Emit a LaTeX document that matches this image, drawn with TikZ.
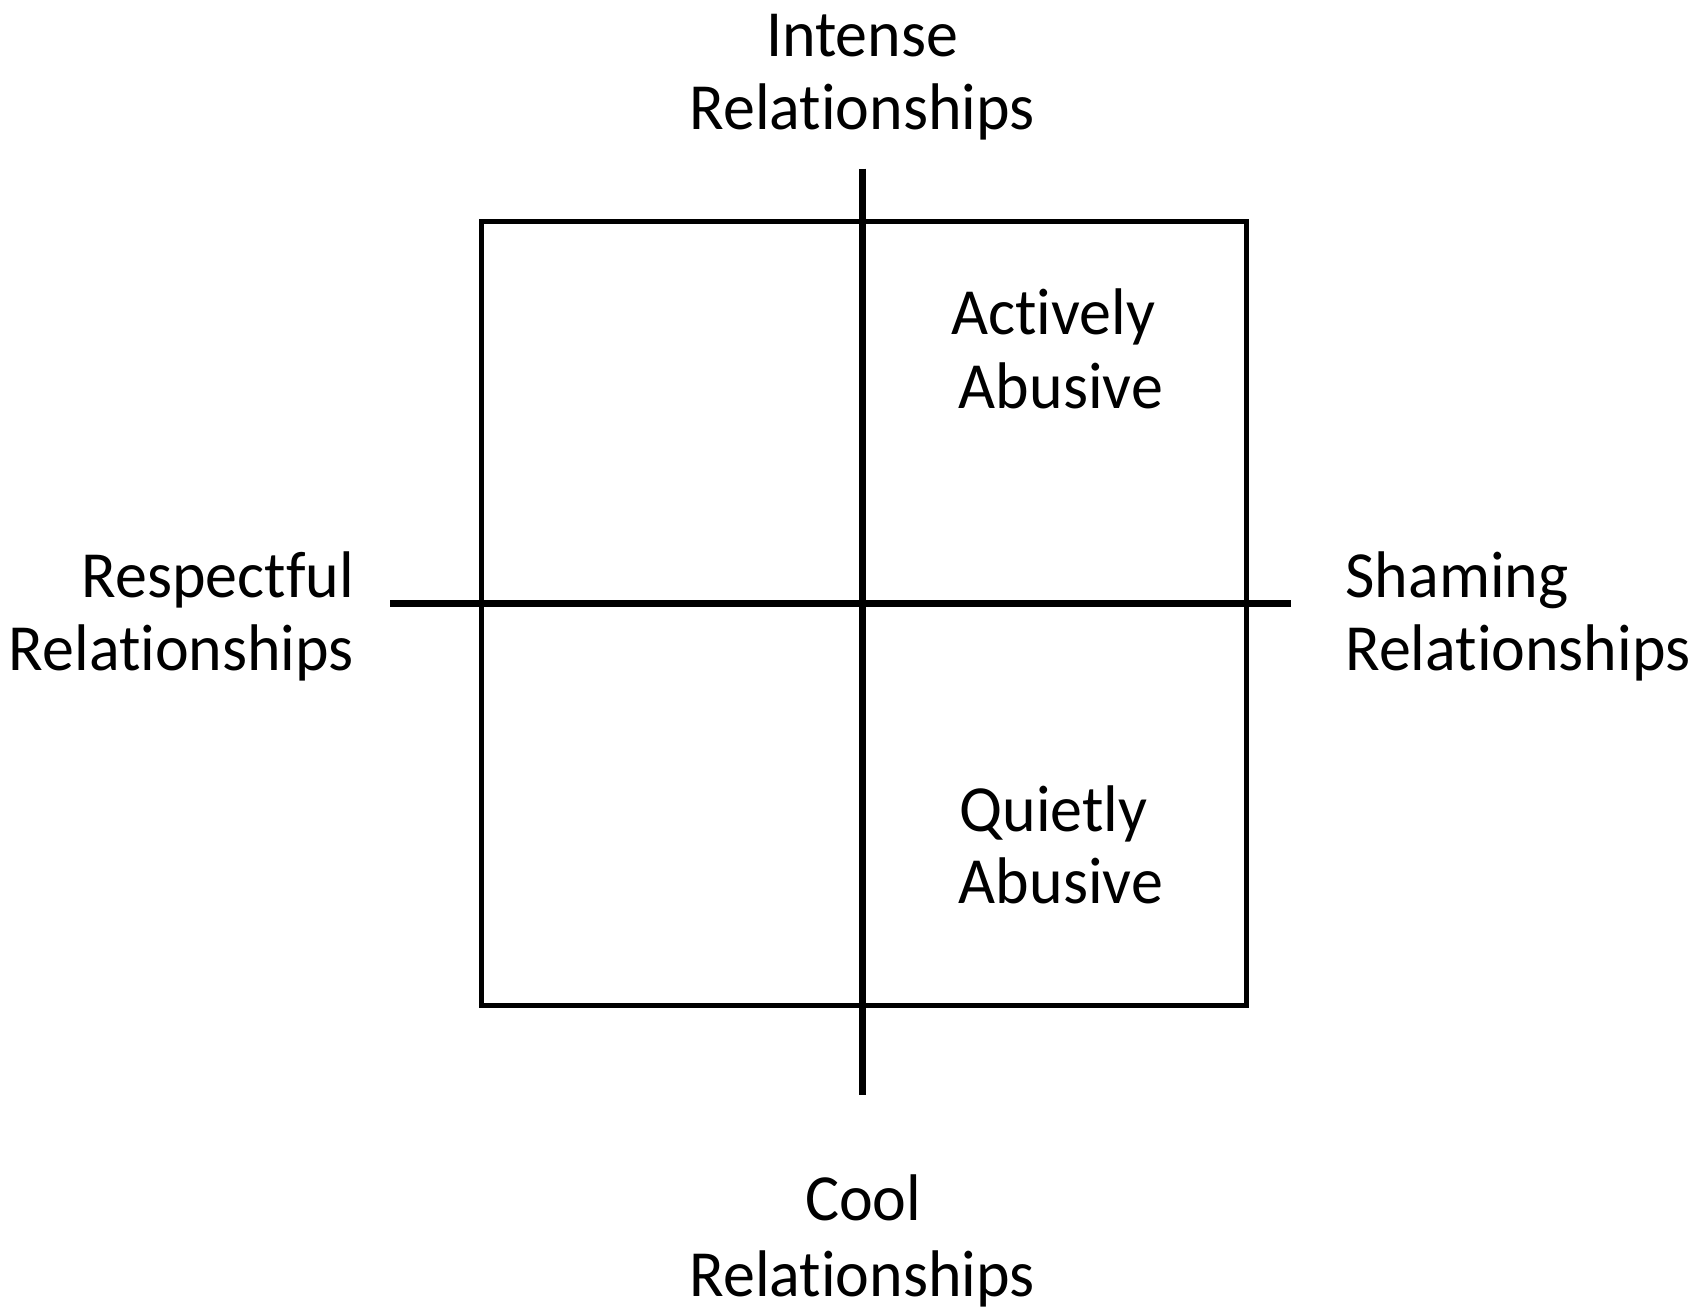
\documentclass[tikz,border=0pt]{standalone}
\usepackage{fontspec}
\setmainfont[Ligatures={NoCommon},FakeStretch=0.97]{Carlito}
\begin{document}
\begin{tikzpicture}[x=0.5pt,y=-0.5pt,
  lbl/.style={inner sep=0pt,font=\fontsize{30.5}{36}\selectfont},
  boxline/.style={line width=2.25pt},
  axisline/.style={line width=3.3pt}]
\useasboundingbox (0,0) rectangle (1568,1212.6);
% quadrant box
\coordinate (tl) at (446,205);
\coordinate (br) at (1154,931);
\draw[boxline] (tl) rectangle (br);
% axes
\coordinate (vtop) at (798,156);
\coordinate (vbot) at (798,1014);
\coordinate (hleft) at (361,559);
\coordinate (hright) at (1195,559);
\draw[axisline] (vtop) -- (vbot);
\draw[axisline] (hleft) -- (hright);
% labels
\node[lbl,anchor=base] (int1) at (798,52) {Intense};
\node[lbl,anchor=base] (int2) at (798,120) {Relationships};
\node[lbl,anchor=base east] (res1) at (328,553) {Respectful};
\node[lbl,anchor=base east] (res2) at (328,621) {Relationships};
\node[lbl,anchor=base west] (sha1) at (1245,553) {Shaming};
\node[lbl,anchor=base west] (sha2) at (1245,621) {Relationships};
\node[lbl,anchor=base] (act1) at (975,310) {Actively};
\node[lbl,anchor=base] (act2) at (982,378) {Abusive};
\node[lbl,anchor=base] (qui1) at (975,770) {Quietly};
\node[lbl,anchor=base] (qui2) at (982,836) {Abusive};
\node[lbl,anchor=base] (coo1) at (799,1130) {Cool};
\node[lbl,anchor=base] (coo2) at (798,1200) {Relationships};
\end{tikzpicture}
\end{document}
